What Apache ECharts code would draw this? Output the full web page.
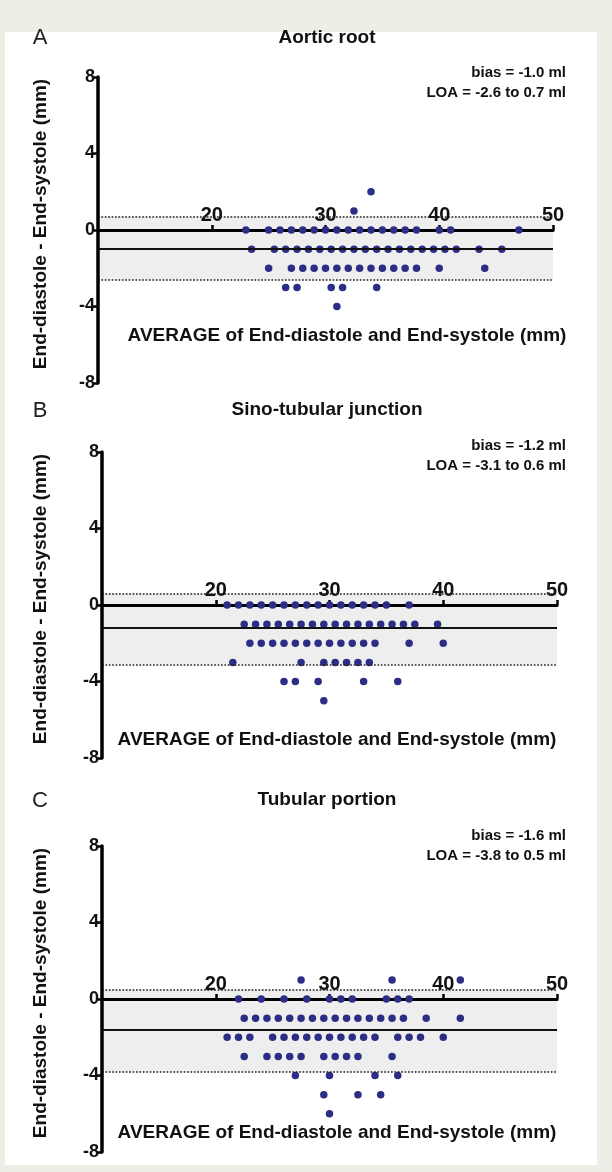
<!DOCTYPE html>
<html>
<head>
<meta charset="utf-8">
<script src="https://cdn.jsdelivr.net/npm/echarts@6/dist/echarts.min.js"></script>
<style>
  html, body { margin: 0; padding: 0; background: #efeee6; }
  #chart { width: 612px; height: 1172px; }
</style>
</head>
<body>
<div id="chart"></div>
<script>
// ---- data (average, difference) ----
const aorticRootPoints = [
  [34, 2],
  [32.5, 1],
  [23, 0], [25, 0], [26, 0], [27, 0], [28, 0], [29, 0], [30, 0], [31, 0], [32, 0], [33, 0], [34, 0], [35, 0], [36, 0], [37, 0], [38, 0], [40, 0], [41, 0], [47, 0],
  [23.5, -1], [25.5, -1], [26.5, -1], [27.5, -1], [28.5, -1], [29.5, -1], [30.5, -1], [31.5, -1], [32.5, -1], [33.5, -1], [34.5, -1], [35.5, -1], [36.5, -1], [37.5, -1], [38.5, -1], [39.5, -1], [40.5, -1], [41.5, -1], [43.5, -1], [45.5, -1],
  [25, -2], [27, -2], [28, -2], [29, -2], [30, -2], [31, -2], [32, -2], [33, -2], [34, -2], [35, -2], [36, -2], [37, -2], [38, -2], [40, -2], [44, -2],
  [26.5, -3], [27.5, -3], [30.5, -3], [31.5, -3], [34.5, -3],
  [31, -4]
];
const sinoTubularPoints = [
  [21, 0], [22, 0], [23, 0], [24, 0], [25, 0], [26, 0], [27, 0], [28, 0], [29, 0], [30, 0], [31, 0], [32, 0], [33, 0], [34, 0], [35, 0], [37, 0],
  [22.5, -1], [23.5, -1], [24.5, -1], [25.5, -1], [26.5, -1], [27.5, -1], [28.5, -1], [29.5, -1], [30.5, -1], [31.5, -1], [32.5, -1], [33.5, -1], [34.5, -1], [35.5, -1], [36.5, -1], [37.5, -1], [39.5, -1],
  [23, -2], [24, -2], [25, -2], [26, -2], [27, -2], [28, -2], [29, -2], [30, -2], [31, -2], [32, -2], [33, -2], [34, -2], [37, -2], [40, -2],
  [21.5, -3], [27.5, -3], [29.5, -3], [30.5, -3], [31.5, -3], [32.5, -3], [33.5, -3],
  [26, -4], [27, -4], [29, -4], [33, -4], [36, -4],
  [29.5, -5]
];
const tubularPoints = [
  [27.5, 1], [35.5, 1], [41.5, 1],
  [22, 0], [24, 0], [26, 0], [28, 0], [30, 0], [31, 0], [32, 0], [35, 0], [36, 0], [37, 0],
  [22.5, -1], [23.5, -1], [24.5, -1], [25.5, -1], [26.5, -1], [27.5, -1], [28.5, -1], [29.5, -1], [30.5, -1], [31.5, -1], [32.5, -1], [33.5, -1], [34.5, -1], [35.5, -1], [36.5, -1], [38.5, -1], [41.5, -1],
  [21, -2], [22, -2], [23, -2], [25, -2], [26, -2], [27, -2], [28, -2], [29, -2], [30, -2], [31, -2], [32, -2], [33, -2], [34, -2], [36, -2], [37, -2], [38, -2], [40, -2],
  [22.5, -3], [24.5, -3], [25.5, -3], [26.5, -3], [27.5, -3], [29.5, -3], [30.5, -3], [31.5, -3], [32.5, -3], [35.5, -3],
  [27, -4], [30, -4], [34, -4], [36, -4],
  [29.5, -5], [32.5, -5], [34.5, -5],
  [30, -6]
];
const panelLetters = ['A', 'B', 'C'];
const panelTitles = ['Aortic root', 'Sino-tubular junction', 'Tubular portion'];
const biasValues = [-1.0, -1.2, -1.6];
const loaLower = [-2.6, -3.1, -3.8];
const loaUpper = [0.7, 0.6, 0.5];
const xRange = [10, 50];
const xInterval = 10;
const yRange = [-8, 8];
const yInterval = 4;
const xAxisTitle = 'AVERAGE of End-diastole and End-systole (mm)';
const yAxisTitle = 'End-diastole - End-systole (mm)';

// ---- layout ----
const FONT = '"Liberation Sans", Arial, Helvetica, sans-serif';
const panels = [
  { left: 98, top: 77, letterY: 38, titleY: 38, statY: 73, xTitleY: 336, xTitleX: 347 },
  { left: 102, top: 452, letterY: 411, titleY: 410, statY: 446, xTitleY: 740, xTitleX: 337 },
  { left: 102, top: 846, letterY: 801, titleY: 800, statY: 836, xTitleY: 1133, xTitleX: 337 }
];
const gridW = 455, gridH = 306;
const pointSets = [aorticRootPoints, sinoTubularPoints, tubularPoints];

const chart = echarts.init(document.getElementById('chart'), null, { renderer: 'canvas' });

const grid = [], xAxis = [], yAxis = [], series = [], graphic = [];

graphic.push({
  type: 'rect', z: -10, silent: true,
  shape: { x: 5, y: 32, width: 592, height: 1133 },
  style: { fill: '#ffffff' }
});

panels.forEach((p, i) => {
  grid.push({ left: p.left, top: p.top, width: gridW, height: gridH, containLabel: false });
  // x axis drawn along the zero difference line
  const zeroOffset = -gridH * (yRange[1] - 0) / (yRange[1] - yRange[0]);
  xAxis.push({
    gridIndex: i, type: 'value', min: xRange[0], max: xRange[1], interval: xInterval, z: 3,
    position: 'top', offset: zeroOffset,
    axisLine: { show: true, onZero: false, lineStyle: { color: '#000', width: 3.2 } },
    axisTick: { show: true, inside: false, length: 5, lineStyle: { color: '#000', width: 2.5 } },
    axisLabel: { margin: 5, showMinLabel: false, color: '#111', fontSize: 20, fontWeight: 'bold', fontFamily: FONT },
    splitLine: { show: false }
  });
  yAxis.push({
    gridIndex: i, type: 'value', min: yRange[0], max: yRange[1], interval: yInterval, z: 5,
    axisLine: { show: true, onZero: false, lineStyle: { color: '#000', width: 3.5 } },
    axisTick: { show: true, length: 5, lineStyle: { color: '#000', width: 2.5 } },
    axisLabel: { margin: 3, color: '#111', fontSize: 18, fontWeight: 'bold', fontFamily: FONT },
    splitLine: { show: false }
  });
  // band + reference lines
  series.push({
    type: 'scatter', xAxisIndex: i, yAxisIndex: i, data: [], z: 1, silent: true,
    markArea: {
      silent: true,
      itemStyle: { color: '#eeeeef' },
      data: [[{ yAxis: loaLower[i] }, { yAxis: loaUpper[i] }]]
    },
    markLine: {
      silent: true, symbol: 'none', animation: false,
      label: { show: false },
      data: [
        { yAxis: biasValues[i], lineStyle: { type: 'solid', color: '#111', width: 1.8 } },
        { yAxis: loaUpper[i], lineStyle: { type: 'dotted', color: '#222', width: 1.7 } },
        { yAxis: loaLower[i], lineStyle: { type: 'dotted', color: '#222', width: 1.7 } }
      ]
    }
  });
  series.push({
    type: 'scatter', xAxisIndex: i, yAxisIndex: i, z: 4,
    symbol: 'circle', symbolSize: 7.5,
    itemStyle: { color: '#2c2d85', opacity: 1 },
    data: pointSets[i]
  });

  graphic.push({
    type: 'text', x: 40, y: p.letterY,
    style: { text: panelLetters[i], font: '22px ' + FONT, fill: '#222', align: 'center', verticalAlign: 'middle' }
  });
  graphic.push({
    type: 'text', x: 327, y: p.titleY,
    style: { text: panelTitles[i], font: 'bold 19px ' + FONT, fill: '#111', align: 'center', verticalAlign: 'middle' }
  });
  graphic.push({
    type: 'text', x: 566, y: p.statY,
    style: { text: 'bias = ' + biasValues[i].toFixed(1) + ' ml', font: 'bold 15px ' + FONT, fill: '#111', align: 'right', verticalAlign: 'middle' }
  });
  graphic.push({
    type: 'text', x: 566, y: p.statY + 20,
    style: { text: 'LOA = ' + loaLower[i].toFixed(1) + ' to ' + loaUpper[i].toFixed(1) + ' ml', font: 'bold 15px ' + FONT, fill: '#111', align: 'right', verticalAlign: 'middle' }
  });
  graphic.push({
    type: 'text', x: p.xTitleX, y: p.xTitleY,
    style: { text: xAxisTitle, font: 'bold 19px ' + FONT, fill: '#111', align: 'center', verticalAlign: 'middle' }
  });
  graphic.push({
    type: 'text', x: 41, y: p.top + gridH / 2 - 6, rotation: Math.PI / 2,
    style: { text: yAxisTitle, font: 'bold 19px ' + FONT, fill: '#111', align: 'center', verticalAlign: 'middle' }
  });
});

chart.setOption({
  backgroundColor: '#efeee6',
  animation: false,
  grid, xAxis, yAxis, series, graphic
});
</script>
</body>
</html>
